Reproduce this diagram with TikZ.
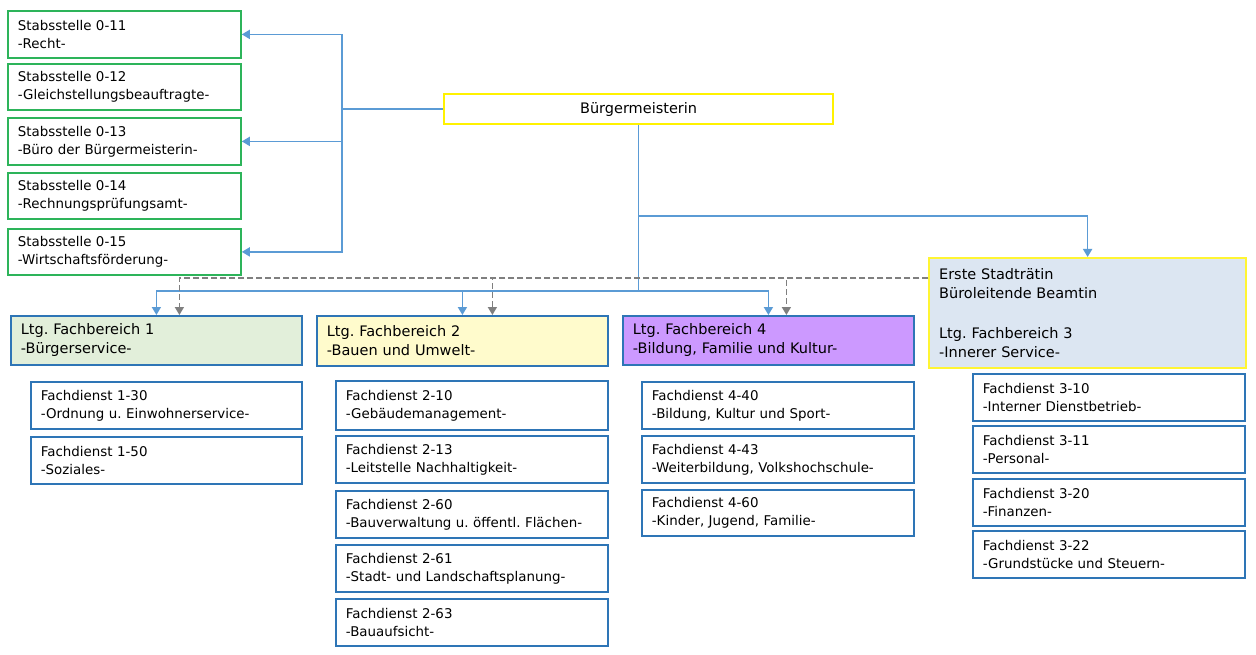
\documentclass[tikz,border=0pt]{standalone}
\usepackage{fontspec}
\setmainfont{DejaVu Sans}
\frenchspacing
\usetikzlibrary{arrows.meta}
\definecolor{stabgreen}{HTML}{2DB45A}
\definecolor{fdblue}{HTML}{2E75B6}
\definecolor{lineblue}{HTML}{5B9BD5}
\definecolor{dashgray}{HTML}{7F7F7F}
\definecolor{fbonefill}{HTML}{E2EFDA}
\definecolor{fbtwofill}{HTML}{FFFBCC}
\definecolor{fbfourfill}{HTML}{CC99FF}
\definecolor{erstefill}{HTML}{DCE6F2}
\definecolor{bmyellow}{HTML}{FFF200}
\newcommand\fsn{\frenchspacing\fontsize{13.4}{18}\selectfont}
\newcommand\fhd{\frenchspacing\fontsize{14.5}{19}\selectfont}
\newcommand\fer{\frenchspacing\fontsize{14.5}{19.7}\selectfont}
\newcommand\bx[7]{%
  \pgfmathsetmacro\bw{#4-#2}\pgfmathsetmacro\bh{#5-#3}\pgfmathsetmacro\tw{#4-#2-20}%
  \node[#6, anchor=north west, minimum width=\bw pt, minimum height=\bh pt, text width=\tw pt] (#1) at (#2,#3) {#7};}
\tikzset{
  basebox/.style={draw, line width=1.8pt, inner xsep=10pt, inner ysep=0pt, align=left},
  stabbox/.style={basebox, draw=stabgreen, font=\fsn},
  fdbox/.style={basebox, draw=fdblue, font=\fsn},
  fbbox/.style={basebox, draw=fdblue, font=\fhd},
  arr/.style={draw=lineblue, line width=1.7pt, -{Triangle[width=9pt,length=8pt]}},
  conn/.style={draw=lineblue, line width=1.7pt},
  darr/.style={draw=dashgray, line width=1.6pt, dash pattern=on 6pt off 3pt, -{Triangle[width=9pt,length=8pt,sep=0pt]}},
}
\begin{document}
\begin{tikzpicture}[x=1pt,y=-1pt]
\useasboundingbox[fill=white] (0,0) rectangle (1256,655);
% Stabsstellen
\bx{s11}{7}{10}{240}{57}{stabbox}{Stabsstelle 0-11\\-Recht-}
\bx{s12}{7}{63}{240}{109}{stabbox}{Stabsstelle 0-12\\-Gleichstellungsbeauftragte-}
\bx{s13}{7}{117}{240}{164}{stabbox}{Stabsstelle 0-13\\-Büro der Bürgermeisterin-}
\bx{s14}{7}{172}{240}{218}{stabbox}{Stabsstelle 0-14\\-Rechnungsprüfungsamt-}
\bx{s15}{7}{228}{240}{274}{stabbox}{Stabsstelle 0-15\\-Wirtschaftsförderung-}
% Buergermeisterin
\node[draw=bmyellow, line width=2.2pt, minimum width=389pt, minimum height=30pt, anchor=north west, inner sep=0pt, font=\fhd] (bm) at (443,93) {Bürgermeisterin};
% Erste Stadtraetin
\bx{erste}{928}{257}{1245}{367}{basebox, draw=bmyellow!80!white, fill=erstefill, line width=2.2pt, font=\fer}{Erste Stadträtin\\Büroleitende Beamtin\\[19.7pt]Ltg. Fachbereich 3\\-Innerer Service-}
% Fachbereiche
\bx{fb1}{10}{315}{301}{364}{fbbox, fill=fbonefill}{Ltg. Fachbereich 1\\-Bürgerservice-}
\bx{fb2}{316}{315}{607}{365}{fbbox, fill=fbtwofill}{Ltg. Fachbereich 2\\-Bauen und Umwelt-}
\bx{fb4}{622}{315}{913}{364}{fbbox, fill=fbfourfill}{Ltg. Fachbereich 4\\-Bildung, Familie und Kultur-}
% Fachdienste 1
\bx{f130}{30}{381}{301}{428}{fdbox}{Fachdienst 1-30\\-Ordnung u. Einwohnerservice-}
\bx{f150}{30}{436}{301}{483}{fdbox}{Fachdienst 1-50\\-Soziales-}
% Fachdienste 2
\bx{f210}{335}{380}{607}{429}{fdbox}{Fachdienst 2-10\\-Gebäudemanagement-}
\bx{f213}{335}{435}{607}{482}{fdbox}{Fachdienst 2-13\\-Leitstelle Nachhaltigkeit-}
\bx{f260}{335}{490}{607}{537}{fdbox}{Fachdienst 2-60\\-Bauverwaltung u. öffentl. Flächen-}
\bx{f261}{335}{544}{607}{591}{fdbox}{Fachdienst 2-61\\-Stadt- und Landschaftsplanung-}
\bx{f263}{335}{598}{607}{645}{fdbox}{Fachdienst 2-63\\-Bauaufsicht-}
% Fachdienste 4
\bx{f440}{641}{381}{913}{428}{fdbox}{Fachdienst 4-40\\-Bildung, Kultur und Sport-}
\bx{f443}{641}{435}{913}{482}{fdbox}{Fachdienst 4-43\\-Weiterbildung, Volkshochschule-}
\bx{f460}{641}{489}{913}{535}{fdbox}{Fachdienst 4-60\\-Kinder, Jugend, Familie-}
% Fachdienste 3
\bx{f310}{972}{373}{1244}{420}{fdbox}{Fachdienst 3-10\\-Interner Dienstbetrieb-}
\bx{f311}{972}{425}{1244}{472}{fdbox}{Fachdienst 3-11\\-Personal-}
\bx{f320}{972}{478}{1244}{525}{fdbox}{Fachdienst 3-20\\-Finanzen-}
\bx{f322}{972}{530}{1244}{577}{fdbox}{Fachdienst 3-22\\-Grundstücke und Steuern-}
% connectors to Stabsstellen
\coordinate (sv) at (342,0 |- bm.west);
\draw[conn] (bm.west) -- (sv);
\draw[arr] (sv) |- (s11.east);
\draw[arr] (sv) |- (s13.east);
\draw[arr] (sv) |- (s15.east);
% connectors down
\coordinate (bmj) at (bm.south |- 0,216);
\coordinate (hb) at (bm.south |- 0,291);
\draw[conn] (bm.south) -- (hb);
\draw[arr] (bmj) -| (erste.north);
\draw[arr] (hb) -| (fb1.north);
\draw[arr] (hb) -| (fb2.north);
\draw[arr] (hb) -| (fb4.north);
% dashed connectors from Erste Stadtraetin
\coordinate (dj) at ([yshift=-21pt]erste.north west);
\draw[darr] (dj) -| ([xshift=23pt]fb1.north);
\draw[darr] (dj) -| ([xshift=30pt]fb2.north);
\draw[darr] (dj) -| ([xshift=18pt]fb4.north);
\end{tikzpicture}
\end{document}
